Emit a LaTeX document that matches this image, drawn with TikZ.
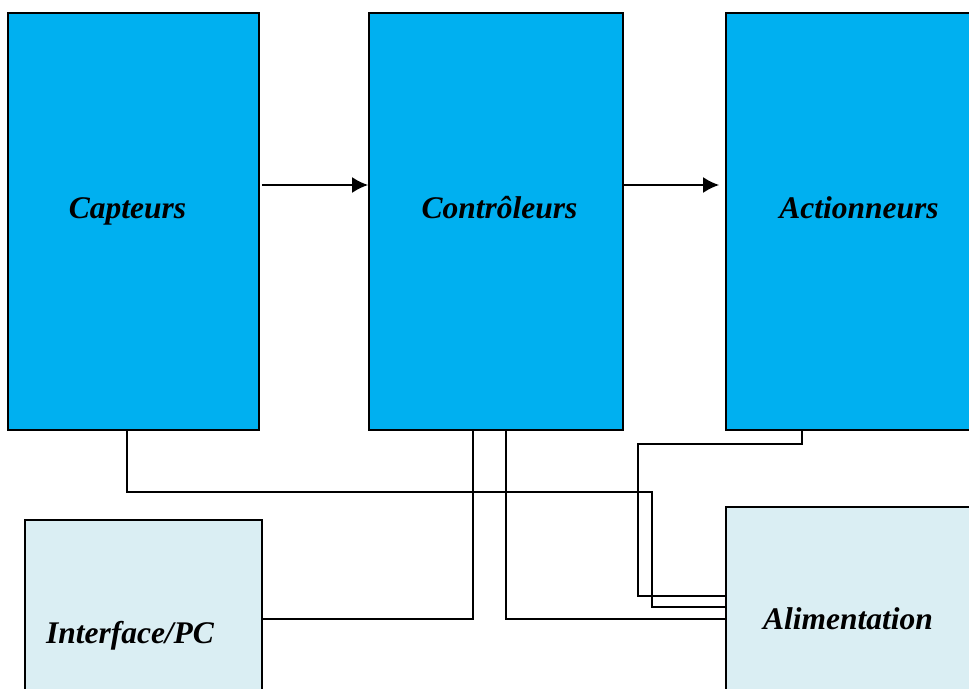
\documentclass[tikz,border=0pt]{standalone}
\usepackage{fontspec}
\setmainfont{Liberation Serif}
\usetikzlibrary{arrows.meta}
\definecolor{bleu}{HTML}{00B0F0}
\definecolor{bleuclair}{HTML}{DAEEF3}

\begin{document}
\begin{tikzpicture}[x=1pt, y=-1pt,
		bloc/.style={draw, line width=1.7pt, inner sep=0pt, minimum width=254pt, minimum height=417pt, fill=bleu},
		blocclair/.style={bloc, fill=bleuclair},
		titre/.style={anchor=base, font=\fontsize{31.5}{36}\selectfont\bfseries\itshape},
		fil/.style={line width=1.6pt},
		fleche/.style={line width=2.2pt, -{Latex[length=16pt, width=16pt]}}]
		\useasboundingbox (0,0) rectangle (969,688);
		\clip (0,0) rectangle (969,688);
		\node[bloc, minimum width=251pt] (capteurs) at (133.5,221.5) {};
		\node[bloc] (controleurs) at (496,221.5) {};
		\node[bloc] (actionneurs) at (853,221.5) {};
		\node[blocclair, minimum width=237pt, minimum height=200pt] (interface) at (143.5,620) {};
		\node[blocclair, minimum height=213pt] (alim) at (853,613.5) {};
		\node[titre] (tcapteurs) at (127.5,218) {Capteurs};
		\node[titre] (tcontroleurs) at (499.5,218) {Contrôleurs};
		\node[titre] (tactionneurs) at (859,218) {Actionneurs};
		\node[titre] (tinterface) at (130,643) {Interface/PC};
		\node[titre] (talim) at (848,629) {Alimentation};
		\coordinate (a1) at (127,492);
		\coordinate (a2) at (652,607);
		\coordinate (b1) at (473,619);
		\coordinate (c1) at (506,619);
		\coordinate (d1) at (638,444);
		\coordinate (d2) at (802,444);
		\coordinate (d3) at (638,596);
		\draw[fleche] ([yshift=36.5pt, xshift=2pt]capteurs.east) -- (controleurs.west |- 0,185);
		\draw[fleche, shorten >=6pt] ([yshift=36.5pt]controleurs.east) -- (actionneurs.west |- 0,185);
		\draw[fil] (capteurs.south -| a1) -- (a1) -| (a2) -- (alim.west |- a2);
		\draw[fil] (controleurs.south -| b1) -- (b1) -- (interface.east |- b1);
		\draw[fil] (controleurs.south -| c1) -- (c1) -- (alim.west |- c1);
		\draw[fil] (actionneurs.south -| d2) -- (d2) -- (d1) -- (d3) -- (alim.west |- d3);
	\end{tikzpicture}
\end{document}
